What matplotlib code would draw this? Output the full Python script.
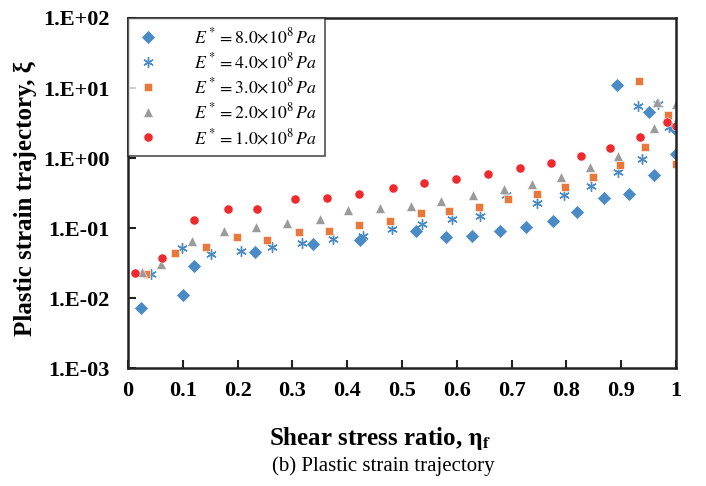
import matplotlib
matplotlib.use("Agg")
import matplotlib.pyplot as plt
import numpy as np

plt.rcParams['font.family'] = ['Liberation Serif', 'DejaVu Serif']
plt.rcParams['mathtext.fontset'] = 'stix'

x8 = [0.024, 0.101, 0.120, 0.231, 0.338, 0.423, 0.526, 0.580, 0.627, 0.678, 0.727, 0.776,
      0.819, 0.869, 0.892, 0.915, 0.951, 0.960, 0.996, 1.0]
y8 = [0.0071, 0.0109, 0.0287, 0.046, 0.060, 0.067, 0.092, 0.074, 0.077, 0.092, 0.103, 0.124,
      0.169, 0.265, 11.2, 0.31, 4.5, 0.58, 2.7, 1.14]

x4 = [0.042, 0.098, 0.151, 0.207, 0.262, 0.318, 0.374, 0.428, 0.482, 0.537, 0.591, 0.643,
      0.690, 0.746, 0.796, 0.845, 0.895, 0.931, 0.938, 0.968, 0.988, 0.999]
y4 = [0.022, 0.051, 0.0425, 0.047, 0.053, 0.062, 0.069, 0.078, 0.096, 0.114, 0.134, 0.15,
      0.30, 0.23, 0.30, 0.40, 0.64, 5.5, 0.97, 6.0, 2.8, 3.0]

x3 = [0.032, 0.085, 0.143, 0.199, 0.254, 0.312, 0.367, 0.421, 0.478, 0.534, 0.586, 0.640,
      0.693, 0.746, 0.797, 0.848, 0.897, 0.933, 0.944, 0.985, 1.0]
y3 = [0.022, 0.0445, 0.054, 0.074, 0.067, 0.087, 0.091, 0.112, 0.126, 0.166, 0.175, 0.197,
      0.257, 0.31, 0.385, 0.53, 0.80, 12.6, 1.42, 4.1, 0.83]

x2 = [0.025, 0.060, 0.117, 0.175, 0.233, 0.291, 0.350, 0.402, 0.460, 0.517, 0.571, 0.630,
      0.686, 0.738, 0.791, 0.843, 0.894, 0.959, 0.965, 1.0]
y2 = [0.0235, 0.031, 0.065, 0.092, 0.103, 0.117, 0.133, 0.181, 0.195, 0.206, 0.243, 0.293,
      0.357, 0.425, 0.54, 0.74, 1.06, 2.65, 6.3, 5.9]

x1 = [0.013, 0.062, 0.121, 0.182, 0.236, 0.304, 0.363, 0.421, 0.483, 0.540, 0.599, 0.657,
      0.716, 0.772, 0.826, 0.880, 0.934, 0.983, 1.0]
y1 = [0.0228, 0.037, 0.131, 0.189, 0.189, 0.26, 0.268, 0.31, 0.37, 0.44, 0.50, 0.585,
      0.71, 0.86, 1.07, 1.39, 2.02, 3.27, 2.89]

labels = [r'$E^*=8.0{\times}10^8\,Pa$', r'$E^*=4.0{\times}10^8\,Pa$', r'$E^*=3.0{\times}10^8\,Pa$',
          r'$E^*=2.0{\times}10^8\,Pa$', r'$E^*=1.0{\times}10^8\,Pa$']
xticks = [0, 0.1, 0.2, 0.3, 0.4, 0.5, 0.6, 0.7, 0.8, 0.9, 1]
xticklabels = ['0', '0.1', '0.2', '0.3', '0.4', '0.5', '0.6', '0.7', '0.8', '0.9', '1']
yticks = [1e-3, 1e-2, 1e-1, 1e0, 1e1, 1e2]
yticklabels = ['1.E-03', '1.E-02', '1.E-01', '1.E+00', '1.E+01', '1.E+02']

fig = plt.figure(figsize=(7.06, 4.86), dpi=100)
ax = fig.add_axes([128/706, 1 - 368/486, (676-128)/706, (368-18)/486])

ax.plot(x8, y8, 'D', color='#4A8BC6', ms=7.3, mec='white', mew=0.4, ls='none', label=labels[0])
ax.plot(x4, y4, marker=(6, 2, 0), color='#4A8BC6', ms=7.5, mew=1.0, ls='none', label=labels[1])
ax.plot(x3, y3, 's', color='#E8783C', ms=6.3, mec='white', mew=0.4, ls='none', label=labels[2])
ax.plot(x2, y2, '^', color='#9B9B9B', ms=7, mec='white', mew=0.4, ls='none', label=labels[3])
ax.plot(x1, y1, 'o', color='#EE2A2E', ms=6.6, mec='white', mew=0.4, ls='none', label=labels[4])

ax.set_yscale('log')
ax.set_xlim(0, 1)
ax.set_ylim(1e-3, 1e2)
ax.set_xticks(xticks)
ax.set_xticklabels(xticklabels, fontweight='bold', fontsize=16)
ax.set_yticks(yticks)
ax.set_yticklabels(yticklabels, fontweight='bold', fontsize=16)
ax.minorticks_off()
ax.tick_params(direction='in', length=6, width=1.5, color='#222222')
ax.tick_params(axis='y', pad=13)
ax.tick_params(axis='x', pad=9)
for s in ax.spines.values():
    s.set_linewidth(1.8)
    s.set_color('#222222')

ax.set_xlabel(r'Shear stress ratio, $\mathbf{\eta_f}$', fontsize=18, fontweight='bold', va='center')
ax.xaxis.set_label_coords((380 - 128) / 548, (368 - 438) / 350)
ax.set_ylabel('Plastic strain trajectory, ξ', fontsize=18, fontweight='bold', va='center')
ax.yaxis.set_label_coords((25 - 128) / 548, (368 - 198) / 350)
fig.text(383/706, 1 - 466/486, '(b) Plastic strain trajectory', ha='center', va='center', fontsize=15)

leg = ax.legend(loc='upper left', borderaxespad=0, fontsize=12.8, frameon=True, fancybox=False,
                edgecolor='#222222', handletextpad=2.0, labelspacing=0.3, borderpad=0.5,
                handlelength=1.2)
leg.get_frame().set_linewidth(1.2)

fig.savefig('out.png', dpi=100)
